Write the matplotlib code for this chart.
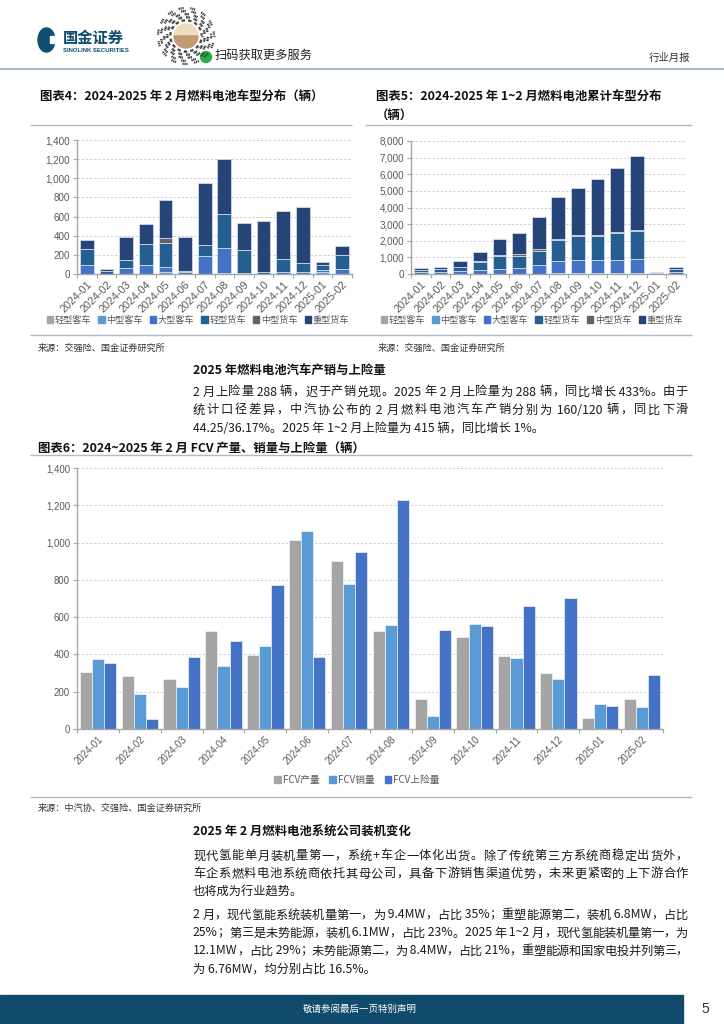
import matplotlib
matplotlib.use("Agg")
import matplotlib.pyplot as plt
import numpy as np
from matplotlib.patches import Patch, Rectangle, Ellipse, Circle, Wedge
from matplotlib.ticker import FuncFormatter, MultipleLocator

plt.rcParams["font.family"] = ["Noto Sans CJK SC", "DejaVu Sans"]

# ---------------------------------------------------------------------------
# data
# ---------------------------------------------------------------------------
months = ["2024-01", "2024-02", "2024-03", "2024-04", "2024-05", "2024-06", "2024-07",
          "2024-08", "2024-09", "2024-10", "2024-11", "2024-12", "2025-01", "2025-02"]
vehicle_types = ["轻型客车", "中型客车", "大型客车", "轻型货车", "中型货车", "重型货车"]
type_colors = ["#a5a5a5", "#5b9bd5", "#4472c4", "#255e91", "#636363", "#264478"]

# 图表4: monthly split by vehicle type
m_light_bus = [0, 0, 0, 0, 0, 0, 0, 5, 10, 5, 5, 5, 0, 0]
m_mid_bus = [0, 0, 0, 0, 25, 0, 0, 5, 0, 0, 0, 0, 20, 5]
m_big_bus = [95, 5, 60, 95, 50, 20, 185, 262, 5, 0, 18, 18, 25, 50]
m_light_truck = [165, 30, 85, 215, 250, 15, 118, 350, 235, 20, 130, 95, 50, 143]
m_mid_truck = [5, 0, 5, 3, 50, 0, 0, 0, 0, 0, 0, 0, 0, 0]
m_heavy_truck = [95, 20, 240, 212, 400, 355, 647, 583, 285, 525, 507, 582, 30, 90]

# 图表5: year-to-date cumulative split by vehicle type
c_light_bus = [0, 0, 0, 0, 0, 0, 0, 5, 15, 20, 25, 30, 0, 0]
c_mid_bus = [0, 0, 0, 0, 25, 25, 25, 30, 30, 30, 30, 30, 20, 25]
c_big_bus = [95, 100, 160, 255, 305, 325, 510, 772, 777, 777, 795, 813, 25, 75]
c_light_truck = [165, 195, 280, 495, 745, 760, 878, 1228, 1463, 1483, 1613, 1708, 50, 193]
c_mid_truck = [5, 5, 10, 13, 63, 63, 63, 63, 63, 63, 63, 63, 0, 0]
c_heavy_truck = [95, 115, 355, 567, 967, 1322, 1969, 2552, 2837, 3362, 3869, 4451, 30, 120]

# 图表6: FCV production / sales / insured registrations
fcv_labels = ["FCV产量", "FCV销量", "FCV上险量"]
fcv_colors = ["#a5a5a5", "#5b9bd5", "#4472c4"]
fcv_prod = [305, 285, 266, 525, 398, 1016, 900, 527, 160, 491, 391, 300, 58, 159]
fcv_sales = [377, 186, 223, 340, 443, 1062, 777, 560, 69, 561, 379, 266, 132, 119]
fcv_insured = [356, 52, 388, 471, 775, 387, 952, 1231, 533, 551, 662, 705, 126, 288]

# page text
sec1_title = "2025 年燃料电池汽车产销与上险量"
sec1_lines = [
    "2 月上险量 288 辆，迟于产销兑现。2025 年 2 月上险量为 288 辆，同比增长 433%。由于",
    "统计口径差异，中汽协公布的 2 月燃料电池汽车产销分别为 160/120 辆，同比下滑",
    "44.25/36.17%。2025 年 1~2 月上险量为 415 辆，同比增长 1%。",
]
sec2_title = "2025 年 2 月燃料电池系统公司装机变化"
sec2_p1 = [
    "现代氢能单月装机量第一，系统+车企一体化出货。除了传统第三方系统商稳定出货外，",
    "车企系燃料电池系统商依托其母公司，具备下游销售渠道优势，未来更紧密的上下游合作",
    "也将成为行业趋势。",
]
sec2_p2 = [
    "2 月，现代氢能系统装机量第一，为 9.4MW，占比 35%；重塑能源第二，装机 6.8MW，占比",
    "25%；第三是未势能源，装机 6.1MW，占比 23%。2025 年 1~2 月，现代氢能装机量第一，为",
    "12.1MW，占比 29%；未势能源第二，为 8.4MW，占比 21%，重塑能源和国家电投并列第三，",
    "为 6.76MW，均分别占比 16.5%。",
]

# ---------------------------------------------------------------------------
W, H = 724, 1024
fig = plt.figure(figsize=(W / 100, H / 100), dpi=100)

# full-page overlay in pixel units (y downwards) for text and decorations
page = fig.add_axes([0, 0, 1, 1])
page.set_xlim(0, W)
page.set_ylim(H, 0)
page.axis("off")

LINE_C = "#a9bccb"
TICK_FONT = ["Liberation Sans", "DejaVu Sans"]


def px_axes(left, top, right, bottom):
    return fig.add_axes([left / W, 1 - bottom / H, (right - left) / W, (bottom - top) / H])


def hline(y, x0, x1, color=LINE_C, lw=1.0):
    page.plot([x0, x1], [y, y], color=color, lw=lw, solid_capstyle="butt")


def style_axis(ax, ymax, step, xfs=6.9, yfs=6.9):
    ax.set_xlim(-0.5, len(months) - 0.5)
    ax.set_ylim(0, ymax)
    ax.yaxis.set_major_locator(MultipleLocator(step))
    ax.yaxis.set_major_formatter(FuncFormatter(lambda v, p: f"{int(v):,}"))
    ax.grid(axis="y", color="#c9c9c9", linestyle=(0, (3, 2)), linewidth=0.6)
    ax.set_axisbelow(True)
    for s in ["top", "right"]:
        ax.spines[s].set_visible(False)
    for s in ["left", "bottom"]:
        ax.spines[s].set_color("#a6a6a6")
        ax.spines[s].set_linewidth(1.0)
    ax.set_xticks(np.arange(-0.5, len(months), 1))
    ax.set_xticklabels([])
    ax.set_xticks(np.arange(len(months)), minor=True)
    ax.set_xticklabels(months, minor=True, rotation=45, ha="right", rotation_mode="anchor",
                       fontsize=xfs, color="#595959", family=TICK_FONT)
    ax.tick_params(axis="x", which="minor", length=0, pad=4)
    ax.tick_params(axis="x", which="major", length=3, color="#a6a6a6")
    ax.tick_params(axis="y", length=3, color="#a6a6a6", labelsize=yfs, labelcolor="#595959", pad=2)
    for lab in ax.get_yticklabels():
        lab.set_family(TICK_FONT)


def stacked(ax, series, ymax, step):
    x = np.arange(len(months))
    bottom = np.zeros(len(months))
    for vals, c in zip(series, type_colors):
        vals = np.asarray(vals, dtype=float)
        ax.bar(x, vals, 0.7, bottom=bottom, color=c, edgecolor="#dde4ee", linewidth=0.5)
        bottom += vals
    style_axis(ax, ymax, step, xfs=7.8, yfs=7.1)


def type_legend(xc, y):
    handles = [Patch(color=c) for c in type_colors]
    fig.legend(handles, vehicle_types, loc="center", bbox_to_anchor=(xc / W, 1 - y / H), ncol=6,
               frameon=False, fontsize=6.6, handlelength=0.7, handleheight=0.7, handletextpad=0.2,
               columnspacing=0.75, labelcolor="#595959", borderpad=0)


# ---------------------------------------------------------------------------
# header
# ---------------------------------------------------------------------------
page.add_patch(Ellipse((46.5, 40), 17, 24, color="#0f4c70"))
page.add_patch(Rectangle((50, 36), 6, 7, color="white"))
page.text(63, 38, "国金证券", fontsize=11, fontweight="bold", color="#0f4c70", va="center")
page.text(63, 50.5, "SINOLINK SECURITIES", fontsize=4.3, fontweight="bold", color="#0f4c70",
          va="center", family=TICK_FONT)

# mini-program code badge
qc, qr = (186, 36), 28
for k in range(90):
    ang = np.deg2rad(k * 4)
    for j, r in enumerate([0.52, 0.63, 0.74, 0.85, 0.96]):
        if (k * 7 + j * 3 + k // 3) % 4 < 2:
            r0, r1 = r * qr, (r + 0.08) * qr
            page.plot([qc[0] + r0 * np.cos(ang), qc[0] + r1 * np.cos(ang)],
                      [qc[1] + r0 * np.sin(ang), qc[1] + r1 * np.sin(ang)],
                      color="#3a3a3a", lw=0.9, solid_capstyle="butt")
page.add_patch(Wedge(qc, 12, 180, 360, color="#efdcbf"))
page.add_patch(Wedge(qc, 12, 0, 180, color="#c19a70"))
page.add_patch(Circle((206, 57), 5.5, color="#2aae4a"))
page.text(215, 55, "扫码获取更多服务", fontsize=8.8, color="#222222", va="center")
page.text(690, 58, "行业月报", fontsize=7.5, color="#333333", va="center", ha="right")
hline(69, 0, W, color="#9fb2c2", lw=1.3)

# ---------------------------------------------------------------------------
# 图表4 / 图表5
# ---------------------------------------------------------------------------
title_kw = dict(fontsize=8.9, fontweight="bold", style="italic", color="#111111", va="center")
page.text(40, 97, "图表4：2024-2025 年 2 月燃料电池车型分布（辆）", **title_kw)
page.text(376, 97, "图表5：2024-2025 年 1~2 月燃料电池累计车型分布", **title_kw)
page.text(376, 115, "（辆）", **title_kw)
hline(125, 30, 352)
hline(125, 365, 692)

ax4 = px_axes(77, 140, 352, 274)
stacked(ax4, [m_light_bus, m_mid_bus, m_big_bus, m_light_truck, m_mid_truck, m_heavy_truck], 1400, 200)
type_legend(198, 320)

ax5 = px_axes(411, 141, 686, 274)
stacked(ax5, [c_light_bus, c_mid_bus, c_big_bus, c_light_truck, c_mid_truck, c_heavy_truck], 8000, 1000)
type_legend(532, 320)

hline(335, 30, 692)
src_kw = dict(fontsize=6.6, color="#333333", va="center")
page.text(38, 348, "来源：交强险、国金证券研究所", **src_kw)
page.text(378, 348, "来源：交强险、国金证券研究所", **src_kw)

# ---------------------------------------------------------------------------
# body text helpers (justified lines like the printed page)
# ---------------------------------------------------------------------------
renderer = fig.canvas.get_renderer()
body_kw = dict(fontsize=8.8, color="#1a1a1a", va="center")
TEXT_X0, TEXT_X1 = 193, 688


def text_width(s, **kw):
    t = page.text(0, 0, s, **kw)
    w = t.get_window_extent(renderer).width
    t.remove()
    return w


def tokens(line):
    out, run = [], ""
    for ch in line:
        if ord(ch) < 128:
            run += ch
        else:
            if run:
                out.append(run)
                run = ""
            out.append(ch)
    if run:
        out.append(run)
    return out


def paragraph(lines, y0, step=18):
    for i, line in enumerate(lines):
        y = y0 + i * step
        if i == len(lines) - 1:
            page.text(TEXT_X0, y, line, **body_kw)
            continue
        toks = tokens(line)
        ws = [text_width(t, **body_kw) for t in toks]
        gap = (TEXT_X1 - TEXT_X0 - sum(ws)) / (len(toks) - 1)
        x = TEXT_X0
        for t, w in zip(toks, ws):
            page.text(x, y, t, **body_kw)
            x += w + gap


head_kw = dict(fontsize=8.9, fontweight="bold", color="#111111", va="center")
page.text(TEXT_X0, 370, sec1_title, **head_kw)
paragraph(sec1_lines, 392)

# ---------------------------------------------------------------------------
# 图表6
# ---------------------------------------------------------------------------
page.text(38, 448, "图表6：2024~2025 年 2 月 FCV 产量、销量与上险量（辆）", **title_kw)
hline(455, 30, 692)

ax6 = px_axes(77, 468, 663, 729)
x = np.arange(len(months))
bw = 0.29
for k, (vals, c) in enumerate(zip([fcv_prod, fcv_sales, fcv_insured], fcv_colors)):
    ax6.bar(x + (k - 1) * bw, vals, bw, color=c, edgecolor="white", linewidth=0.4)
style_axis(ax6, 1400, 200)
fig.legend([Patch(color=c) for c in fcv_colors], fcv_labels, loc="center",
           bbox_to_anchor=(357 / W, 1 - 780 / H), ncol=3, frameon=False, fontsize=7,
           handlelength=0.7, handleheight=0.7, handletextpad=0.2, columnspacing=1.0,
           labelcolor="#595959", borderpad=0)
hline(797, 30, 692)
page.text(38, 808, "来源：中汽协、交强险、国金证券研究所", **src_kw)

page.text(TEXT_X0, 832, sec2_title, **head_kw)
paragraph(sec2_p1, 856)
paragraph(sec2_p2, 915)

# ---------------------------------------------------------------------------
# footer
# ---------------------------------------------------------------------------
page.add_patch(Rectangle((0, 995), 683, 29, color="#104b6d"))
page.text(360, 1009, "敬请参阅最后一页特别声明", fontsize=6.8, color="white", va="center", ha="center")
page.text(705, 1009, "5", fontsize=10, color="#333333", va="center", ha="center", family=TICK_FONT)

fig.savefig("out.png", dpi=100)
